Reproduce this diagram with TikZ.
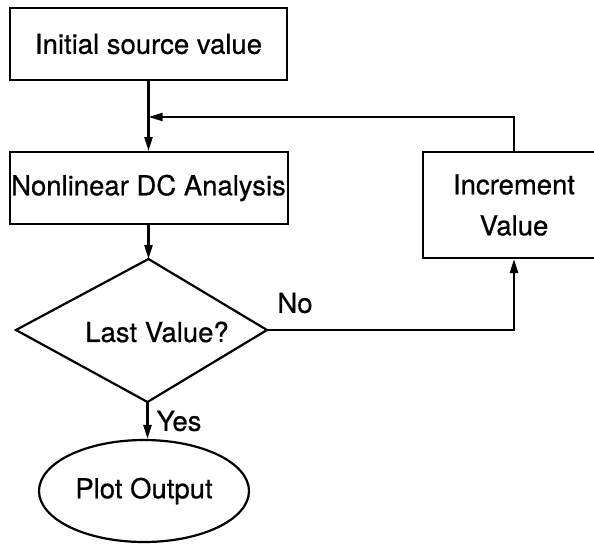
\documentclass[tikz,border=0pt]{standalone}
\usepackage{fontspec}
\setmainfont{TeX Gyre Heros}[FakeBold=0.6]
\usetikzlibrary{shapes.geometric,arrows.meta}

\begin{document}
\begin{tikzpicture}[x=1pt,y=-1pt,
  every node/.style={font=\fontsize{27.5}{41}\selectfont},
  stepbox/.style={draw,line width=2pt,rectangle,inner sep=0pt},
  outline/.style={draw,line width=2.2pt,line join=miter},
  terminal/.style={draw,line width=2.2pt,ellipse,inner sep=0pt},
  flow/.style={line width=2.4pt,-{Triangle[length=14pt,width=8pt]}},
  tag/.style={inner sep=0pt}]
  \useasboundingbox (0,0) rectangle (594,544);
  \clip (0,0) rectangle (594,544);

  % process boxes
  \node[stepbox,minimum width=277pt,minimum height=72pt] (init) at (148.5,44) {Initial source value};
  \node[stepbox,minimum width=278pt,minimum height=72pt] (dc) at (148.5,188) {Nonlinear DC Analysis};
  \node[stepbox,minimum width=182pt,minimum height=106pt,align=center] (inc) at (514,205) {Increment\\Value};

  % decision: corner points of the diamond
  \coordinate (last-n) at (148.5,259);
  \coordinate (last-e) at (267,330);
  \coordinate (last-s) at (147.5,402);
  \coordinate (last-w) at (16,330);
  \draw[outline] (last-n) -- (last-e) -- (last-s) -- (last-w) -- cycle;
  \node[inner sep=0pt] (last) at (157,332) {Last Value?};

  % end
  \node[terminal,minimum width=210pt,minimum height=102pt] (plot) at (144,491) {Plot Output};

  % connectors
  \coordinate (merge) at (148.5,117);
  \draw[flow] (init.south) -- (dc.north);
  \draw[flow,line width=1.8pt] (inc.north) |- (merge);
  \draw[flow] (dc.south) -- (last-n);
  \draw[flow] (last-e) -| (inc.south);
  \draw[flow] (last-s) -- (last-s |- plot.north);

  % branch labels
  \node[tag] (no) at (295,303) {No};
  \node[tag] (yes) at (179,421) {Yes};
\end{tikzpicture}
\end{document}
